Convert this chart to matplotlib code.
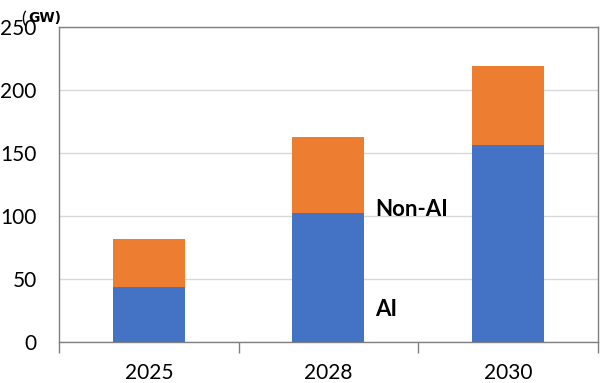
import matplotlib.pyplot as plt
import numpy as np

years = ["2025", "2028", "2030"]
ai = [44, 102, 156]
non_ai = [38, 61, 63]
yticks = [0, 50, 100, 150, 200, 250]

plt.rcParams['font.family'] = ['Lato', 'DejaVu Sans']

fig = plt.figure(figsize=(6, 3.83), dpi=100)
ax = fig.add_axes([0.0983, 0.107, 0.898, 0.8225])

x = np.arange(len(years))
ax.bar(x, ai, width=0.4, color='#4472C4', zorder=3)
ax.bar(x, non_ai, width=0.4, bottom=ai, color='#ED7D31', zorder=3)

ax.set_xlim(-0.5, 2.5)
ax.set_ylim(0, 250)
ax.set_yticks(yticks)
ax.yaxis.grid(True, color='#D9D9D9', linewidth=1, zorder=0)
ax.tick_params(axis='y', length=0, labelsize=15, pad=16)

# category boundaries get the tick marks, labels sit in between
ax.set_xticks([-0.5, 0.5, 1.5, 2.5])
ax.set_xticklabels([])
ax.tick_params(axis='x', which='major', length=8, color='#808080', width=1)
ax.set_xticks(x, minor=True)
ax.set_xticklabels(years, minor=True)
ax.tick_params(axis='x', which='minor', length=0, labelsize=15, pad=15)

for s in ax.spines.values():
    s.set_color('#808080')
    s.set_linewidth(1)

ax.text(1.26, 105, "Non-AI", fontsize=16, fontweight='bold', va='center', ha='left')
ax.text(1.26, 26, "AI", fontsize=16, fontweight='bold', va='center', ha='left')

fig.text(0.036, 0.935, "(", fontsize=13, va='baseline')
fig.text(0.047, 0.942, "GW)", fontsize=10, fontweight='bold', family='DejaVu Sans',
         va='baseline')

fig.savefig("out.png", dpi=100)
